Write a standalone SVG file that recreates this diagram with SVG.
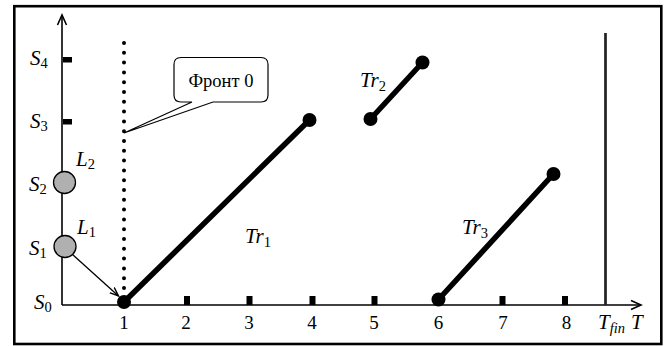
<svg xmlns="http://www.w3.org/2000/svg" width="670" height="346" viewBox="0 0 670 346">
<style>
.t{font-family:"Liberation Serif","Times New Roman",serif;fill:#000}
.lab{font-size:21px;font-style:italic}
.sub{font-size:14.5px;font-style:normal}
.subi{font-size:14.5px;font-style:italic}
.num{font-size:19px;text-anchor:middle}
.traj{stroke:#000;stroke-width:5.5;stroke-linecap:round;fill:none}
.ax{stroke:#000;stroke-width:1.6;fill:none}
.tick{fill:#000}
.dot{fill:#000}
.lvl{fill:#b0b0b0;stroke:#000;stroke-width:1.3}
</style>
<defs>
<marker id="ah" markerWidth="12" markerHeight="10" refX="9" refY="4" orient="auto" markerUnits="userSpaceOnUse">
<path d="M0,0.5 L9,4 L0,7.5" fill="none" stroke="#000" stroke-width="1.4"/>
</marker>
</defs>
<rect x="14.3" y="6.2" width="647" height="337.8" fill="#fff" stroke="#000" stroke-width="2.6"/>
<g id="axes">
<line class="ax" x1="62" y1="305" x2="62" y2="16"/>
<path class="ax" d="M57.5,25 L62,15 L66.5,25"/>
<line class="ax" x1="62" y1="305" x2="640" y2="305"/>
<path class="ax" d="M631,300.5 L641,305 L631,309.5"/>
<rect class="tick" x="63" y="57" width="9" height="5.5"/>
<rect class="tick" x="63" y="119" width="9" height="5.5"/>
<rect class="tick" x="184" y="296" width="6" height="9"/>
<rect class="tick" x="246.5" y="296" width="6" height="9"/>
<rect class="tick" x="309.5" y="296" width="6" height="9"/>
<rect class="tick" x="371.5" y="296" width="6" height="9"/>
<rect class="tick" x="499.5" y="296" width="6" height="9"/>
<rect class="tick" x="562" y="296" width="6" height="9"/>
<text class="t num" x="124" y="329">1</text>
<text class="t num" x="186" y="329">2</text>
<text class="t num" x="249" y="329">3</text>
<text class="t num" x="312" y="329">4</text>
<text class="t num" x="374" y="329">5</text>
<text class="t num" x="438.5" y="329">6</text>
<text class="t num" x="503" y="329">7</text>
<text class="t num" x="566.5" y="329">8</text>
<text class="t lab" x="598" y="329">T<tspan class="subi" dy="4">fin</tspan></text>
<text class="t lab" x="631" y="329">T</text>
<text class="t lab" x="30" y="65">S<tspan class="sub" dy="3">4</tspan></text>
<text class="t lab" x="30" y="128">S<tspan class="sub" dy="3">3</tspan></text>
<text class="t lab" x="29" y="191">S<tspan class="sub" dy="3">2</tspan></text>
<text class="t lab" x="29" y="255">S<tspan class="sub" dy="3">1</tspan></text>
<text class="t lab" x="34" y="309">S<tspan class="sub" dy="3">0</tspan></text>
</g>
<line id="tfin" x1="605.5" y1="33" x2="605.5" y2="305" stroke="#222" stroke-width="2.7"/>
<g id="front0">
<line x1="124" y1="43" x2="124" y2="294" stroke="#000" stroke-width="4" stroke-linecap="round" stroke-dasharray="0 9.8"/>
</g>
<g id="callout">
<path d="M181,57.5 H261 Q268,57.5 268,64.5 V95 Q268,102 261,102 H213 L124,133 L192,102 H181 Q174,102 174,95 V64.5 Q174,57.5 181,57.5 Z" fill="#fff" stroke="#000" stroke-width="1.2"/>
<text class="t" x="221" y="86.5" font-size="18.5" text-anchor="middle">Фронт 0</text>
</g>
<g id="L2">
<circle class="lvl" cx="64.5" cy="182.5" r="11"/>
<text class="t lab" x="76" y="166">L<tspan class="sub" dy="3">2</tspan></text>
</g>
<g id="L1">
<circle class="lvl" cx="65" cy="246.5" r="11"/>
<text class="t lab" x="77" y="234">L<tspan class="sub" dy="3">1</tspan></text>
</g>
<g id="connectors">
<line x1="72.5" y1="254.5" x2="118.5" y2="296" stroke="#000" stroke-width="1.3" marker-end="url(#ah)"/>
</g>
<g id="Tr1">
<line class="traj" x1="124" y1="302" x2="309.5" y2="120"/>
<circle class="dot" cx="124" cy="302" r="7"/>
<circle class="dot" cx="309.5" cy="120" r="7"/>
<text class="t lab" x="245" y="243">Tr<tspan class="sub" dy="4">1</tspan></text>
</g>
<g id="Tr2">
<line class="traj" x1="370.5" y1="119" x2="422.5" y2="62.5"/>
<circle class="dot" cx="370.5" cy="119" r="7"/>
<circle class="dot" cx="422.5" cy="62.5" r="7"/>
<text class="t lab" x="360" y="87">Tr<tspan class="sub" dy="4">2</tspan></text>
</g>
<g id="Tr3">
<line class="traj" x1="438.5" y1="299.5" x2="553.5" y2="174"/>
<circle class="dot" cx="438.5" cy="299.5" r="7"/>
<circle class="dot" cx="553.5" cy="174" r="7"/>
<text class="t lab" x="462" y="234">Tr<tspan class="sub" dy="4">3</tspan></text>
</g>
</svg>
